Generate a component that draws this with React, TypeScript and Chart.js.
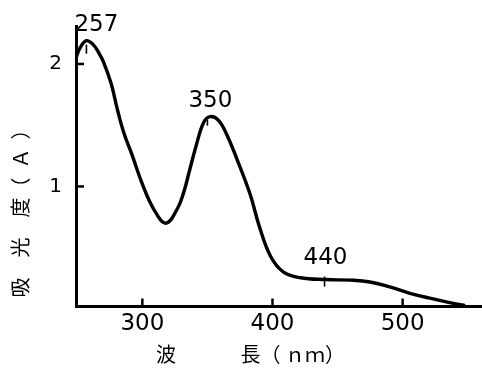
import { useEffect, useRef } from "react";
import { Chart, registerables } from "chart.js";

Chart.register(...registerables);

// Absorption spectrum (wavelength in nm, absorbance A)
const wavelengths = [
  249, 252, 257, 262, 266, 270, 276, 281, 286, 292, 300, 308.5, 318, 327, 332, 336,
  341, 347, 352, 358.5, 365, 375, 383, 390, 398.5, 408.5, 421.5, 441, 460, 475,
  490, 505, 520, 537, 547,
];
const absorbance = [
  2.05, 2.13, 2.19, 2.16, 2.1, 2.02, 1.84, 1.62, 1.43, 1.26, 1.02, 0.82, 0.7, 0.82,
  0.96, 1.12, 1.32, 1.52, 1.57, 1.54, 1.42, 1.16, 0.93, 0.67, 0.43, 0.3, 0.255, 0.24,
  0.235, 0.22, 0.18, 0.13, 0.09, 0.05, 0.03,
];
const xTickValues = [300, 400, 500];
const yTickValues = [1, 2];
const peakWavelengths = [257, 350, 440];
const peakAbsorbance = [2.19, 1.57, 0.24];
const peakLabels = ["257", "350", "440"];

const xTitle = "\u3000\u3000\u3000\u3000波\u3000\u3000\u3000 長（ ｎｍ）";
const yTitle = "  吸\u3000光\u3000度（  Ａ  ）";

const NUM_FONT = "'DejaVu Sans', 'Liberation Sans', Arial, sans-serif";

export default function App() {
  const ref = useRef<HTMLCanvasElement>(null);

  useEffect(() => {
    const canvas = ref.current;
    if (!canvas) return;

    const markPlugin = {
      id: "marks",
      afterDraw(chart: any) {
        const { ctx, chartArea } = chart;
        const x = chart.scales.x;
        const y = chart.scales.y;
        ctx.save();
        ctx.strokeStyle = "#000";
        ctx.fillStyle = "#000";
        ctx.lineWidth = 2.5;
        ctx.lineCap = "butt";
        // inward tick marks
        yTickValues.forEach((v) => {
          const py = y.getPixelForValue(v);
          ctx.beginPath();
          ctx.moveTo(chartArea.left, py);
          ctx.lineTo(chartArea.left + 8, py);
          ctx.stroke();
        });
        xTickValues.forEach((v) => {
          const px = x.getPixelForValue(v);
          ctx.beginPath();
          ctx.moveTo(px, chartArea.bottom);
          ctx.lineTo(px, chartArea.bottom - 8);
          ctx.stroke();
        });
        // peak marks and labels
        const markExtent = [
          [4, 13],
          [3, 9],
          [-3, 7],
        ];
        const labelOffset = [
          [10, -16],
          [3, -16],
          [1, -22],
        ];
        ctx.lineWidth = 1.6;
        ctx.font = `23px ${NUM_FONT}`;
        ctx.textAlign = "center";
        ctx.textBaseline = "middle";
        peakWavelengths.forEach((w, i) => {
          const px = x.getPixelForValue(w);
          const py = y.getPixelForValue(peakAbsorbance[i]);
          ctx.beginPath();
          ctx.moveTo(px, py + markExtent[i][0]);
          ctx.lineTo(px, py + markExtent[i][1]);
          ctx.stroke();
          ctx.fillText(peakLabels[i], px + labelOffset[i][0], py + labelOffset[i][1]);
        });
        ctx.restore();
      },
    };

    const chart = new Chart(canvas, {
      type: "line",
      data: {
        datasets: [
          {
            data: wavelengths.map((w, i) => ({ x: w, y: absorbance[i] })),
            borderColor: "#000",
            borderWidth: 3.4,
            pointRadius: 0,
            tension: 0.4,
            fill: false,
            borderJoinStyle: "round",
            borderCapStyle: "round",
          },
        ],
      },
      options: {
        animation: false,
        responsive: false,
        layout: { padding: { top: 22, left: 0, right: 0, bottom: 0 } },
        plugins: {
          legend: { display: false },
          tooltip: { enabled: false },
        },
        scales: {
          x: {
            type: "linear",
            min: 249,
            max: 561,
            afterBuildTicks: (s: any) => {
              s.ticks = xTickValues.map((v) => ({ value: v }));
            },
            afterFit: (s: any) => {
              s.height = 64.5;
            },
            grid: { display: false, drawTicks: false },
            border: { display: true, color: "#000", width: 3 },
            ticks: {
              padding: 4,
              color: "#000",
              maxRotation: 0,
              autoSkip: false,
              font: { family: NUM_FONT, size: 23 },
            },
            title: {
              display: true,
              text: xTitle,
              align: "start",
              color: "#000",
              font: { family: "'Noto Sans CJK JP'", size: 20 },
              padding: { top: 0, bottom: 4.6 },
            },
          },
          y: {
            type: "linear",
            min: 0.02,
            max: 2.31,
            afterBuildTicks: (s: any) => {
              s.ticks = yTickValues.map((v) => ({ value: v }));
            },
            afterFit: (s: any) => {
              s.width = 76;
            },
            grid: { display: false, drawTicks: false },
            border: { display: true, color: "#000", width: 3 },
            ticks: {
              padding: 14,
              color: "#000",
              autoSkip: false,
              font: { family: NUM_FONT, size: 20 },
            },
            title: {
              display: true,
              text: yTitle,
              align: "start",
              color: "#000",
              font: { family: "'Noto Sans CJK JP'", size: 20 },
              padding: { top: 8, bottom: 0 },
            },
          },
        },
      },
      plugins: [markPlugin],
    } as any);

    return () => chart.destroy();
  }, []);

  return (
    <div
      style={{
        position: "fixed",
        left: 0,
        top: 0,
        width: 482,
        height: 371,
        background: "#fff",
      }}
    >
      <canvas ref={ref} width={482} height={371} style={{ display: "block" }} />
    </div>
  );
}
